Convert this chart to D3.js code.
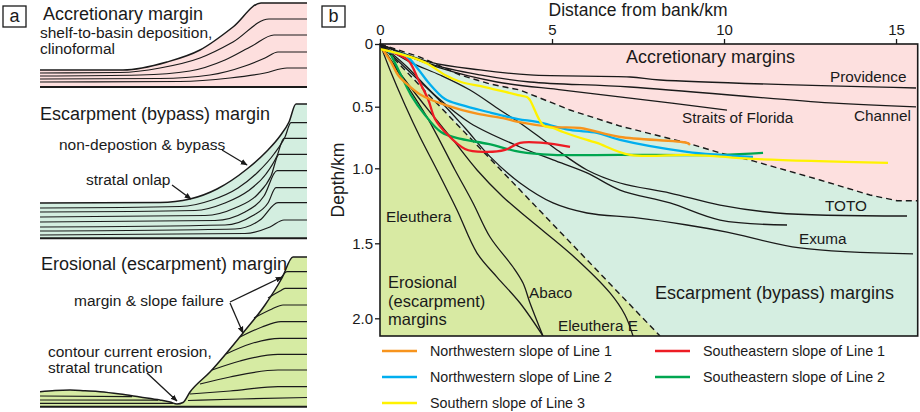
<!DOCTYPE html>
<html><head><meta charset="utf-8">
<script src="https://cdn.jsdelivr.net/npm/d3@7/dist/d3.min.js"></script>
<style>
html,body{margin:0;padding:0;background:#fff;}
svg{display:block;}
text{font-family:"Liberation Sans",Arial,Helvetica,sans-serif;fill:#1a1a1a;}
</style></head>
<body>
<svg id="chart" width="920" height="412"></svg>
<script>
// ================= DATA (panel b) =================
const xTicks=[0,5,10,15];
const yTicks=[0,0.5,1.0,1.5,2.0];
const yTickLabels=["0","0.5","1.0","1.5","2.0"];
const xMax=15.63, yMax=2.118;

// measured slope profiles [distance km, depth km]
const nwLine1=[[0.087,0.048],[0.32,0.144],[0.523,0.247],[0.814,0.327],[1.192,0.407],[1.89,0.486],[2.849,0.559],[3.576,0.592],[4.012,0.624],[5.029,0.665],[5.814,0.673],[6.977,0.746],[8.924,0.794],[9.012,0.81]];
const nwLine2=[[0.233,0.064],[0.727,0.088],[1.105,0.199],[1.395,0.303],[1.89,0.439],[2.355,0.486],[3.14,0.543],[4.012,0.6],[4.564,0.624],[5.523,0.689],[6.308,0.713],[6.977,0.77],[8.924,0.867],[9.884,0.891],[10.843,0.907]];
const seLine1=[[0.32,0.064],[0.814,0.128],[1.105,0.279],[1.395,0.439],[1.599,0.6],[1.89,0.705],[2.471,0.843],[3.052,0.867],[3.634,0.851],[4.07,0.794],[4.738,0.794],[5.523,0.827]];
const seLine2=[[0.32,0.088],[0.523,0.199],[0.901,0.407],[1.308,0.567],[1.773,0.705],[2.355,0.762],[3.14,0.802],[4.07,0.867],[5.029,0.891],[6.977,0.891],[9.884,0.891],[11.134,0.875]];
const sLine3=[[0,0.04],[0.145,0.048],[0.901,0.104],[1.395,0.159],[1.89,0.247],[2.355,0.303],[3.052,0.343],[4.012,0.407],[4.273,0.423],[4.36,0.447],[4.738,0.649],[5.029,0.673],[5.32,0.705],[6.017,0.77],[6.308,0.794],[7.267,0.891],[8.924,0.891],[9.884,0.905],[10.843,0.924],[14.767,0.956]];

// reference margin profiles
const providence=[[0,0],[1.453,0.144],[2.907,0.207],[4.36,0.247],[7.267,0.263],[8.14,0.287],[15.581,0.351]];
const channel=[[0,0],[1.453,0.159],[2.907,0.247],[4.36,0.303],[7.267,0.343],[13.081,0.47],[15.581,0.502]];
const straits=[[0,0],[1.744,0.191],[3.401,0.303],[5.32,0.367],[7.267,0.431],[10.087,0.527]];
const toto=[[0,0],[0.872,0.144],[1.744,0.247],[2.616,0.367],[3.488,0.527],[4.07,0.632],[5.029,0.827],[6.017,1.011],[6.977,1.098],[8.43,1.165],[9.884,1.245],[11.541,1.298],[15.32,1.318]];
const bypass2=[[0,0],[0.727,0.167],[1.657,0.423],[2.616,0.632],[4.07,0.827],[5.029,0.932],[6.017,1.031],[6.977,1.145],[8.43,1.231],[9.884,1.345],[11.831,1.378]];
const exuma=[[0,0],[0.93,0.239],[1.802,0.47],[2.471,0.673],[3.198,0.905],[4.07,1.098],[5.029,1.231],[6.017,1.298],[7.471,1.331],[8.924,1.378],[10.087,1.425],[12.209,1.531],[15.494,1.571]];
const eleuthera=[[0,0],[0.291,0.207],[0.727,0.486],[1.163,0.746],[1.657,1.011],[2.238,1.278],[2.82,1.565],[3.401,1.725],[4.07,1.898],[4.738,2.118]];
const abaco=[[0,0],[0.581,0.247],[1.366,0.584],[2.18,1.011],[2.703,1.231],[3.198,1.458],[3.866,1.658],[4.157,1.765],[4.36,1.898],[4.738,2.118]];
const eleutheraE=[[0,0],[0.727,0.287],[1.453,0.543],[2.122,0.77],[2.82,1.011],[3.576,1.191],[4.36,1.345],[5.581,1.578],[6.686,1.831],[7.122,1.978],[7.355,2.118]];

// domain boundaries (dashed)
const accBoundary=[[0,0],[1.163,0.104],[1.744,0.175],[2.326,0.247],[3.198,0.319],[4.07,0.367],[5.523,0.527],[6.977,0.657],[8.924,0.794],[9.884,0.875],[10.843,0.94],[12.791,1.078],[14.244,1.178],[15.029,1.216],[15.63,1.216]];
const erosBoundary=[[0,0],[1.747,0.5],[3.465,1.0],[5.555,1.5],[7.645,2.0],[8.14,2.118]];

const legendLabels=["Northwestern slope of Line 1","Northwestern slope of Line 2","Southern slope of Line 3","Southeastern slope of Line 1","Southeastern slope of Line 2"];
const legendColors=["#f7941d","#00aeef","#fff200","#ed1c24","#00a650"];

// ================= schematic geometry (panel a, local drawing units) =================
const accTop=[[0,67],[83,67],[127,59],[160,47],[193,24],[221,0],[267,0]];
const accStrata=[
 [[0,70],[80,69.5],[120,65],[160,55],[193,39],[229,16],[267,16]],
 [[0,73],[100,72],[150,68],[185,57],[212,43],[234,32],[267,32]],
 [[0,76],[120,75.5],[170,72],[205,63],[225,55],[238,49],[267,49]],
 [[0,79],[140,78.5],[190,75],[225,70],[247,65],[267,65]]];
const accBase=84;

const bypTop=[[0,99],[120,98.5],[150,95],[177,85],[207,65],[227,47],[240,32],[249,18],[256,0],[267,0]];
const bypStrata=[
 [[0,104],[140,102.5],[172,96],[198,84],[218,68],[234,50],[245,33],[251,18.7],[267,18.7]],
 [[0,108],[155,106.5],[185,99],[208,87],[226,70],[237,52],[244,34.3],[267,34.3]],
 [[0,113],[165,111.5],[195,104],[218,90],[231,72],[239,50.3],[267,50.3]],
 [[0,118],[175,116.5],[205,108],[224,92],[237,66.7],[267,66.7]],
 [[0,123],[185,121],[212,112],[228,99],[236,83.7],[267,83.7]],
 [[0,127],[195,125],[220,116],[238,98.7],[267,98.7]],
 [[0,131],[205,129.5],[230,123],[244,116],[267,116]]];
const bypBase=134.3;

const eroTop=[[0,134.7],[15,133.5],[30,133],[45,133.8],[60,134.7],[80,137],[100,140],[120,143],[130,145],[137,147],[143,145.5],[150,135],[170,115],[203,76],[225,48],[242,21],[253,0],[267,0]];
const eroStrata=[
 [[0,139],[92,139.6]],[[0,143],[118,143.2]],[[0,146.3],[133,146.4]],
 [[240,23],[247,14.7],[267,14.7]],
 [[228,41],[240,34],[245,31.3],[267,31.3]],
 [[214,61],[232,52],[243,48],[267,48]],
 [[200,80],[222,70],[241,64.7],[267,64.7]],
 [[186,97],[210,87],[240,81.3],[267,81.3]],
 [[172,113],[200,104],[238,97.3],[267,97.3]],
 [[160,127],[190,120],[238,113],[267,113]],
 [[150,137],[190,134],[238,129.7],[267,129.7]],
 [[148,143.5],[200,142],[267,140.5]]];
const eroBase=149.7;

// ================= DRAW =================
const svg=d3.select("#chart");
const INK="#1a1a1a";

// ---- panel a ----
function schematic(ox,oy,fill,top,strata,base){
  const sx=d3.scaleLinear().domain([0,267]).range([ox,ox+267]);
  const sy=d3.scaleLinear().domain([0,150]).range([oy,oy+150]);
  const g=svg.append("g");
  g.append("path").attr("fill",fill)
   .attr("d",d3.area().x(d=>sx(d[0])).y0(sy(base)).y1(d=>sy(d[1])).curve(d3.curveMonotoneX)(top));
  const ln=d3.line().x(d=>sx(d[0])).y(d=>sy(d[1])).curve(d3.curveMonotoneX);
  strata.forEach(s=>g.append("path").attr("d",ln(s)).attr("fill","none").attr("stroke",INK).attr("stroke-width",1.2));
  g.append("path").attr("d",ln(top)).attr("fill","none").attr("stroke",INK).attr("stroke-width",1.5);
  g.append("line").attr("x1",sx(0)).attr("x2",sx(267)).attr("y1",sy(base)).attr("y2",sy(base)).attr("stroke",INK).attr("stroke-width",2);
}
schematic(40,3,"#fddfde",accTop,accStrata,accBase);
schematic(40,104,"#d3eee0",bypTop,bypStrata,bypBase);
schematic(40,257,"#d6eba3",eroTop,eroStrata,eroBase);

// panel letters
function letterBox(x,y,t){
  svg.append("rect").attr("x",x).attr("y",y).attr("width",23).attr("height",21).attr("fill","#fff").attr("stroke",INK).attr("stroke-width",1.3);
  svg.append("text").attr("x",x+11.5).attr("y",y+16).attr("text-anchor","middle").attr("font-size",18).text(t);
}
letterBox(3,6,"a");
letterBox(322,6,"b");

const aText=[
 ["Accretionary margin",43,19.5,18],
 ["shelf-to-basin deposition,",40,37.5,15.5],
 ["clinoformal",40,54,15.5],
 ["Escarpment (bypass) margin",40,119.5,18],
 ["non-depostion & bypass",59,149.5,15.5],
 ["stratal onlap",86,184.5,15.5],
 ["Erosional (escarpment) margin",41,270,18],
 ["margin & slope failure",74,305.5,15.5],
 ["contour current erosion,",48,357,15.5],
 ["stratal truncation",48,372.5,15.5]];
aText.forEach(t=>svg.append("text").attr("x",t[1]).attr("y",t[2]).attr("font-size",t[3]).text(t[0]));

const defs=svg.append("defs");
defs.append("marker").attr("id","ah").attr("viewBox","0 0 10 10").attr("refX",9).attr("refY",5)
 .attr("markerWidth",7).attr("markerHeight",7).attr("markerUnits","userSpaceOnUse").attr("orient","auto")
 .append("path").attr("d","M0,1 L10,5 L0,9 Z").attr("fill",INK);
const arrows=[[222,150,247,165],[172,185,191,199],[230,302,282,277],[230,303,243,333],[147,373,177,401]];
arrows.forEach(a=>svg.append("line").attr("x1",a[0]).attr("y1",a[1]).attr("x2",a[2]).attr("y2",a[3])
 .attr("stroke",INK).attr("stroke-width",1.3).attr("marker-end","url(#ah)"));

// ---- panel b ----
const x=d3.scaleLinear().domain([0,xMax]).range([380,917.7]);
const y=d3.scaleLinear().domain([0,0.5,1,1.5,2,yMax]).range([44,106.7,168.3,243.3,318.3,336]);

defs.append("clipPath").attr("id","plotclip").append("rect")
 .attr("x",x(0)).attr("y",y(0)).attr("width",x(xMax)-x(0)).attr("height",y(yMax)-y(0));
const pb=svg.append("g").attr("clip-path","url(#plotclip)");

pb.append("rect").attr("x",x(0)).attr("y",y(0)).attr("width",x(xMax)-x(0)).attr("height",y(yMax)-y(0)).attr("fill","#fde0df");
const poly=d3.line().x(d=>x(d[0])).y(d=>y(d[1]));
const mint=accBoundary.concat([[xMax,yMax]],erosBoundary.slice().reverse());
pb.append("path").attr("d",poly(mint)+"Z").attr("fill","#d5eee1");
pb.append("path").attr("d",poly(erosBoundary.concat([[0,yMax]]))+"Z").attr("fill","#d8eaa3");

const smooth=d3.line().x(d=>x(d[0])).y(d=>y(d[1])).curve(d3.curveCatmullRom.alpha(0.5));
[providence,channel,straits,toto,bypass2,exuma,eleuthera,abaco,eleutheraE].forEach(p=>
  pb.append("path").attr("d",smooth(p)).attr("fill","none").attr("stroke",INK).attr("stroke-width",1.3));
[accBoundary,erosBoundary].forEach(p=>
  pb.append("path").attr("d",poly(p)).attr("fill","none").attr("stroke",INK).attr("stroke-width",1.4).attr("stroke-dasharray","6,4"));

const series=[[seLine2,legendColors[4]],[seLine1,legendColors[3]],[nwLine2,legendColors[1]],[nwLine1,legendColors[0]],[sLine3,legendColors[2]]];
series.forEach(s=>pb.append("path").attr("d",smooth(s[0])).attr("fill","none").attr("stroke",s[1]).attr("stroke-width",2.3).attr("stroke-linejoin","round"));

// frame
svg.append("rect").attr("x",x(0)).attr("y",y(0)).attr("width",x(xMax)-x(0)).attr("height",y(yMax)-y(0))
 .attr("fill","none").attr("stroke",INK).attr("stroke-width",1.6);

// axes
const xa=svg.append("g").attr("transform",`translate(0,${y(0)})`)
 .call(d3.axisTop(x).tickValues(xTicks).tickFormat(d3.format("d")).tickSize(5).tickPadding(4));
const ya=svg.append("g").attr("transform",`translate(${x(0)},0)`)
 .call(d3.axisLeft(y).tickValues(yTicks).tickFormat((d,i)=>yTickLabels[i]).tickSize(5).tickPadding(2));
[xa,ya].forEach(a=>{a.select(".domain").remove();
  a.selectAll("line").attr("stroke",INK).attr("stroke-width",1.3);
  a.selectAll("text").attr("font-size",15).attr("font-family","'Liberation Sans',Arial,sans-serif").attr("fill",INK);});

svg.append("text").attr("x",638).attr("y",16).attr("text-anchor","middle").attr("font-size",17.5).text("Distance from bank/km");
svg.append("text").attr("transform","translate(344,180) rotate(-90)").attr("text-anchor","middle").attr("font-size",17.5).text("Depth/km");

// in-plot labels [text, km, depth(center), size]
const bLabels=[
 ["Accretionary margins",7.151,0.104,18],
 ["Providence",13.081,0.263,15.3],
 ["Channel",13.779,0.576,15.3],
 ["Straits of Florida",8.779,0.592,15.3],
 ["TOTO",12.936,1.251,15.3],
 ["Exuma",12.18,1.471,15.3],
 ["Escarpment (bypass) margins",7.994,1.831,18],
 ["Eleuthera",0.174,1.325,15.3],
 ["Erosional",0.233,1.762,16.5],
 ["(escarpment)",0.233,1.885,16.5],
 ["margins",0.233,2.008,16.5],
 ["Abaco",4.331,1.831,15.3],
 ["Eleuthera E",5.174,2.051,15.3]];
bLabels.forEach(l=>svg.append("text").attr("x",x(l[1])).attr("y",y(l[2])).attr("dy","0.35em").attr("font-size",l[3]).text(l[0]));

// legend
const legPos=[[382,351],[382,377],[382,403],[655,351],[655,377]];
legendLabels.forEach((t,i)=>{
  const p=legPos[i];
  svg.append("line").attr("x1",p[0]).attr("x2",p[0]+35).attr("y1",p[1]).attr("y2",p[1]).attr("stroke",legendColors[i]).attr("stroke-width",2.5);
  svg.append("text").attr("x",p[0]+48).attr("y",p[1]).attr("dy","0.35em").attr("font-size",14.3).text(t);
});
</script>
</body></html>
